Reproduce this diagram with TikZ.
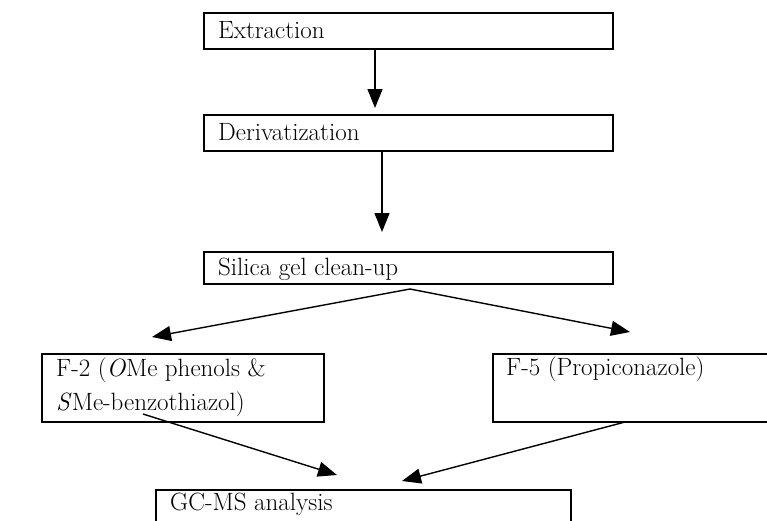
\documentclass[tikz,border=0pt]{standalone}
\usepackage{fontspec}
\usetikzlibrary{arrows.meta}
\begin{document}
\begin{tikzpicture}[x=1pt,y=-1pt,
  box/.style={draw, line width=1.8pt, rectangle, inner sep=0pt, anchor=north west},
  lbl/.style={anchor=base west, inner sep=0pt, font=\fontsize{25}{33}\selectfont},
  arr/.style={line width=1.4pt, -{Triangle[length=19pt,width=15pt]}}]
\clip (0,0) rectangle (767,520);
\fill[white] (0,0) rectangle (767,520);
% boxes
\node[box, minimum width=409pt, minimum height=36pt] (ext) at (203,12) {};
\node[box, minimum width=409pt, minimum height=36pt] (der) at (203,114) {};
\node[box, minimum width=409pt, minimum height=32pt] (sil) at (203,251) {};
\node[box, minimum width=282pt, minimum height=68pt] (ftwo) at (41,353) {};
\node[box, minimum width=290pt, minimum height=68pt] (ffive) at (492,353) {};
\node[box, minimum width=415pt, minimum height=60pt] (gcms) at (155,489) {};
% labels
\node[lbl] (extT) at (218,38) {Extraction};
\node[lbl] (derT) at (218,140) {Derivatization};
\node[lbl] (silT) at (218,275) {Silica gel clean-up};
\node[lbl] (ftwoA) at (56,376) {F-2 (\textit{O}Me phenols \&};
\node[lbl] (ftwoB) at (56,410) {\textit{S}Me-benzothiazol)};
\node[lbl] (ffiveT) at (506,375) {F-5 (Propiconazole)};
\node[lbl] (gcmsT) at (170,510) {GC-MS analysis};
% arrow ends
\coordinate (a1s) at (375,48);  \coordinate (a1e) at (375,108);
\coordinate (a2s) at (382,150); \coordinate (a2e) at (382,232);
\coordinate (split) at (410,289);
\coordinate (lt) at (152,337);  \coordinate (rt) at (630,332);
\coordinate (b1s) at (143,414); \coordinate (b1e) at (337,475);
\coordinate (b2s) at (625,422); \coordinate (b2e) at (402,481);
% arrows
\draw[arr] (a1s) -- (a1e);
\draw[arr] (a2s) -- (a2e);
\draw[arr] (split) -- (lt);
\draw[arr] (split) -- (rt);
\draw[arr] (b1s) -- (b1e);
\draw[arr] (b2s) -- (b2e);
\end{tikzpicture}
\end{document}
